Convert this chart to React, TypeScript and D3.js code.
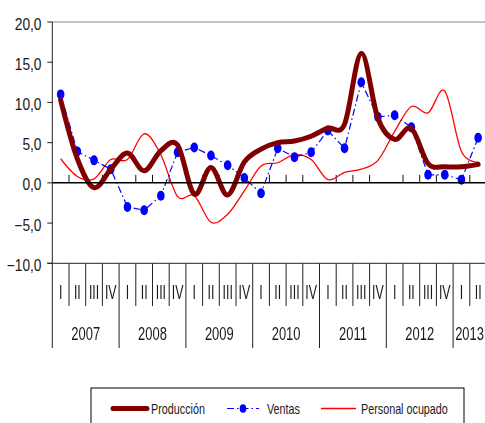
import React from "react";
import * as d3 from "d3";

const years = ["2007", "2008", "2009", "2010", "2011", "2012", "2013"];
const quarterNames = ["I", "II", "III", "IV"];
const quarters: { year: string; q: string }[] = [];
years.forEach((y) => {
  const n = y === "2013" ? 2 : 4;
  for (let i = 0; i < n; i++) quarters.push({ year: y, q: quarterNames[i] });
});

const produccion = [10.3, 3.0, -0.6, 1.7, 3.7, 1.5, 4.0, 4.7, -1.4, 1.9, -1.5, 2.6, 4.2, 5.0, 5.2, 5.8, 6.8, 7.3, 16.1, 8.0, 5.4, 6.8, 2.4, 2.0, 2.0, 2.3];
const ventas = [11.0, 3.9, 2.8, 1.7, -3.0, -3.4, -1.6, 3.8, 4.4, 3.4, 2.2, 0.6, -1.3, 4.3, 3.2, 3.8, 6.5, 4.3, 12.5, 8.2, 8.4, 6.9, 1.0, 1.0, 0.4, 5.6];
const personal = [3.0, 0.8, 0.5, 2.9, 2.9, 6.1, 3.5, -1.7, -1.6, -4.9, -3.9, -1.0, 2.1, 2.5, 3.5, 2.9, 0.4, 1.3, 1.7, 2.8, 6.4, 9.5, 8.7, 11.4, 3.9, 2.6];
const yTicks = [-10, -5, 0, 5, 10, 15, 20];

const W = 485;
const H = 423;
const left = 52.3;
const qw = 16.7;
const top = 22;
const bottom = 263.3;

const FONT = "'Liberation Sans', Arial, sans-serif";

function NText({ x, y, sx = 0.77, size = 18, anchor = "middle", children, fill = "#1a1a1a" }: any) {
  return (
    <text
      transform={`translate(${x},${y}) scale(${sx},1)`}
      textAnchor={anchor}
      fontFamily={FONT}
      fontSize={size}
      fill={fill}
    >
      {children}
    </text>
  );
}

export default function App() {
  const idx = quarters.map((_, i) => i);
  const x = d3.scaleBand<number>().domain(idx).range([left, left + qw * quarters.length]);
  const cx = (i: number) => (x(i) as number) + x.bandwidth() / 2;
  const y = d3.scaleLinear().domain([-10, 20]).range([bottom, top]);

  const smooth = d3
    .line<number>()
    .x((_, i) => cx(i))
    .y((d) => y(d))
    .curve(d3.curveCardinal.tension(0));
  const straight = d3
    .line<number>()
    .x((_, i) => cx(i))
    .y((d) => y(d));

  const right = left + qw * quarters.length;

  const yearStarts: { year: string; start: number; end: number }[] = [];
  years.forEach((yr) => {
    const ids = idx.filter((i) => quarters[i].year === yr);
    yearStarts.push({ year: yr, start: x(ids[0]) as number, end: (x(ids[ids.length - 1]) as number) + x.bandwidth() });
  });

  return (
    <svg width={W} height={H} style={{ position: "absolute", left: 0, top: 0 }}>
      <rect x={0} y={0} width={W} height={H} fill="#fff" />
      <line x1={left} x2={right} y1={top} y2={top} stroke="#888" strokeWidth={1.2} />
      <line x1={left} x2={left} y1={top} y2={bottom} stroke="#222" strokeWidth={1} />
      {yTicks.map((t) => (
        <line key={t} x1={left - 5} x2={left} y1={y(t)} y2={y(t)} stroke="#222" />
      ))}
      <g opacity={0.999}>
        {yTicks.map((t) => (
          <NText key={t} x={41.5} y={y(t) + 7.5} anchor="end" size={16} sx={0.86}>
            {d3.format(".1f")(t).replace(".", ",")}
          </NText>
        ))}
      </g>
      <line x1={left - 5} x2={right} y1={bottom} y2={bottom} stroke="#222" />
      {idx.map((i) => {
        const bx = x(i) as number;
        const isYear = quarters[i].q === "I";
        return (
          <g key={i}>
            <line x1={bx} x2={bx} y1={bottom} y2={isYear ? 348 : 306} stroke="#222" />
            {!isYear && <line x1={bx} x2={bx} y1={y(0) - 8} y2={y(0)} stroke="#111" />}
          </g>
        );
      })}
      <g opacity={0.999}>
        {idx.map((i) => (
          <NText key={i} x={cx(i)} y={299} size={20} sx={0.62}>
            {quarters[i].q}
          </NText>
        ))}
        {yearStarts.map((ys) => (
          <NText key={ys.year} x={(ys.start + Math.min(ys.end, 486)) / 2} y={340} size={18} sx={0.72}>
            {ys.year}
          </NText>
        ))}
      </g>
      <line x1={right} x2={right} y1={bottom} y2={348} stroke="#222" />

      <path d={smooth(personal) || ""} fill="none" stroke="#ff0000" strokeWidth={1.3} />
      <path d={straight(ventas) || ""} fill="none" stroke="#0000ff" strokeWidth={1.2} strokeDasharray="7,3,1.5,3" />
      {ventas.map((v, i) => (
        <ellipse key={i} cx={cx(i)} cy={y(v)} rx={3.8} ry={5} fill="#0000ff" />
      ))}
      <path d={smooth(produccion) || ""} fill="none" stroke="#800000" strokeWidth={5} strokeLinecap="round" strokeLinejoin="round" />
      <line x1={left} x2={right} y1={y(0)} y2={y(0)} stroke="#000" strokeWidth={1.5} />

      <rect x={91} y={388} width={373} height={60} fill="#fff" stroke="#000" strokeWidth={1} />
      <line x1={113} x2={147} y1={408.5} y2={408.5} stroke="#800000" strokeWidth={5} strokeLinecap="round" />
      <line x1={227} x2={259} y1={408.5} y2={408.5} stroke="#0000ff" strokeWidth={1.2} strokeDasharray="7,3,1.5,3" />
      <ellipse cx={243} cy={408.5} rx={3.3} ry={4.3} fill="#0000ff" />
      <line x1={321} x2={356} y1={408.5} y2={408.5} stroke="#ff0000" strokeWidth={1.3} />
      <g opacity={0.999}>
        <NText x={151} y={414} anchor="start" size={14} sx={0.77}>Producción</NText>
        <NText x={267} y={414} anchor="start" size={14} sx={0.77}>Ventas</NText>
        <NText x={361} y={414} anchor="start" size={14} sx={0.77}>Personal ocupado</NText>
      </g>
    </svg>
  );
}
